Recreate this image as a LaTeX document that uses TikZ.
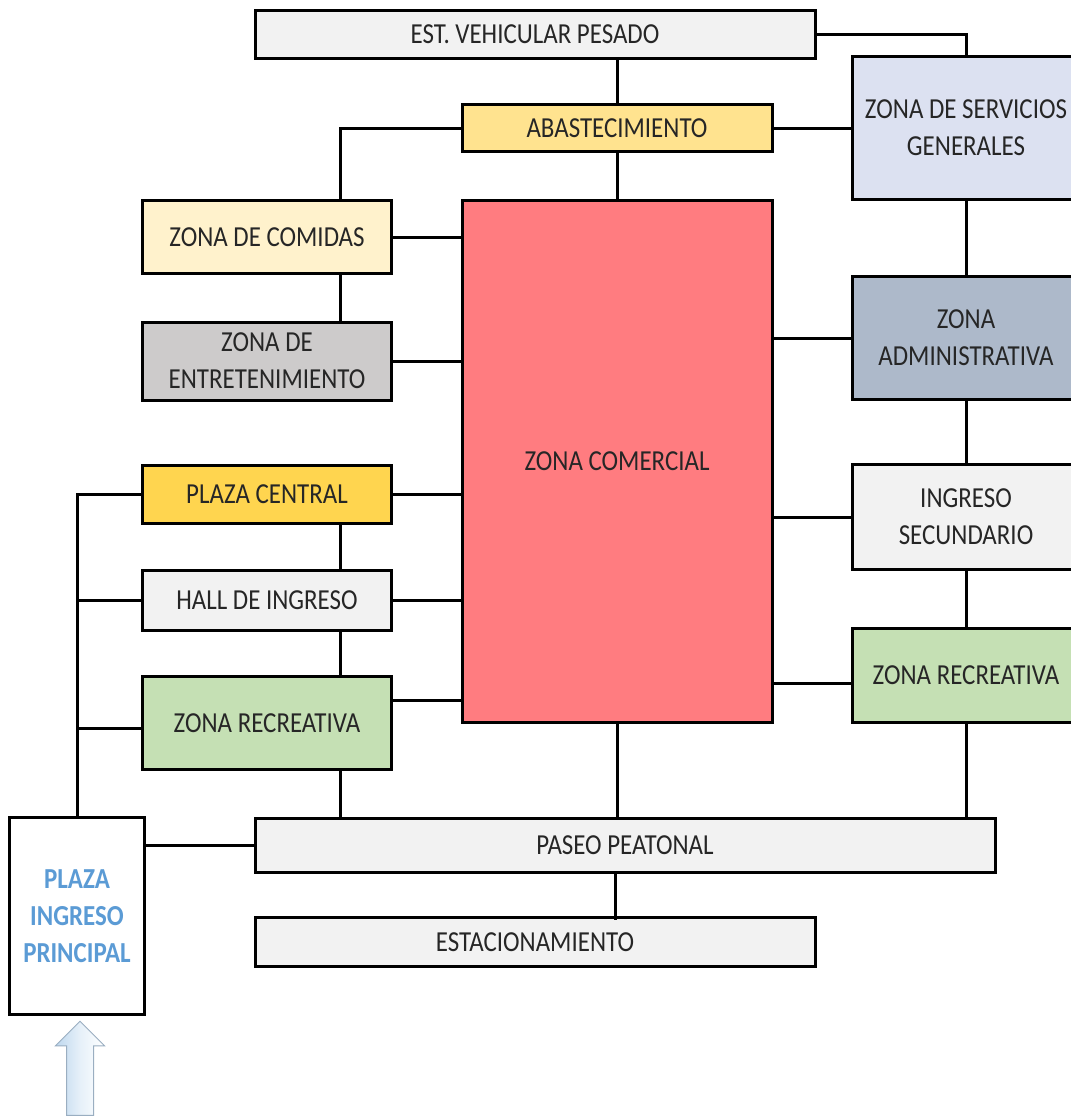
\documentclass[tikz,border=0pt]{standalone}
\usepackage{fontspec}
\setmainfont{Carlito}[FakeStretch=0.86]
\usetikzlibrary{shapes.arrows}

\definecolor{grisclaro}{HTML}{F2F2F2}
\definecolor{lavanda}{HTML}{DCE1F1}
\definecolor{amarillo}{HTML}{FFE38F}
\definecolor{crema}{HTML}{FFF2CC}
\definecolor{salmon}{HTML}{FF7C80}
\definecolor{grismedio}{HTML}{CDCBCB}
\definecolor{azulgris}{HTML}{ADB9CA}
\definecolor{dorado}{HTML}{FFD54F}
\definecolor{verdeclaro}{HTML}{C5E0B4}
\definecolor{azultexto}{HTML}{5B9BD5}

\newcommand\zonatextstyle{\fontsize{29}{37}\selectfont}
\newcommand\zonalinewidth{3pt}

\tikzset{
  zona/.style={draw, line width=\zonalinewidth, align=center, inner sep=0pt,
    text=black!85, font=\zonatextstyle},
  enlace/.style={line width=\zonalinewidth},
}

\begin{document}
\begin{tikzpicture}[x=1pt, y=-1pt]
    \useasboundingbox (0,0) rectangle (1071,1117);
    % bloques
    \node (est) at (535,34)[zona, fill=grisclaro, minimum width=560, minimum height=48]{EST. VEHICULAR PESADO};
    \node (serv) at (966,128)[zona, fill=lavanda, minimum width=228, minimum height=143]{ZONA DE SERVICIOS\\GENERALES};
    \node (abast) at (617,128)[zona, fill=amarillo, minimum width=310, minimum height=47]{ABASTECIMIENTO};
    \node (comidas) at (267,237)[zona, fill=crema, minimum width=249, minimum height=73]{ZONA DE COMIDAS};
    \node (comercial) at (617,461)[zona, fill=salmon, minimum width=310, minimum height=522]{ZONA COMERCIAL};
    \node (entret) at (267,361)[zona, fill=grismedio, minimum width=249, minimum height=78]{ZONA DE\\ENTRETENIMIENTO};
    \node (admin) at (966,338)[zona, fill=azulgris, minimum width=228, minimum height=123]{ZONA\\ADMINISTRATIVA};
    \node (plazac) at (267,494)[zona, fill=dorado, minimum width=249, minimum height=58]{PLAZA CENTRAL};
    \node (ingsec) at (966,517)[zona, fill=grisclaro, minimum width=228, minimum height=105]{INGRESO\\SECUNDARIO};
    \node (hall) at (267,600)[zona, fill=grisclaro, minimum width=249, minimum height=60]{HALL DE INGRESO};
    \node (recl) at (267,723)[zona, fill=verdeclaro, minimum width=249, minimum height=93]{ZONA RECREATIVA};
    \node (recr) at (966,675)[zona, fill=verdeclaro, minimum width=228, minimum height=94]{ZONA RECREATIVA};
    \node (paseo) at (625,845)[zona, fill=grisclaro, minimum width=740, minimum height=54]{PASEO PEATONAL};
    \node (estac) at (535,942)[zona, fill=grisclaro, minimum width=560, minimum height=49]{ESTACIONAMIENTO};
    \node (pip) at (77,916)[zona, fill=white, minimum width=135, minimum height=197, text=azultexto, font=\zonatextstyle\bfseries]{PLAZA\\INGRESO\\PRINCIPAL};
    \node (entrada) at (80,1075)[single arrow, rotate=90, draw=azultexto!45!gray!70, line width=1pt,
      left color=azultexto!40, right color=white, middle color=azultexto!15,
      minimum height=94, inner xsep=0pt, inner ysep=13pt, single arrow head extend=11pt,
      single arrow head indent=0pt]{};
    % puntos de enlace
    \coordinate (izq1) at ([xshift=73]comidas.north);
    \coordinate (izq2) at ([xshift=73]entret.north);
    \coordinate (izq3) at ([xshift=73]plazac.south);
    \coordinate (izq4) at ([xshift=73]hall.north);
    \coordinate (izq5) at ([xshift=73]hall.south);
    \coordinate (izq6) at ([xshift=73]recl.north);
    \coordinate (izq7) at ([xshift=73]recl.south);
    % enlaces
    \draw[enlace] (est.east) -| (serv.north);
    \draw[enlace] (abast.north) -- (abast.north |- est.south);
    \draw[enlace] (abast.south) -- (abast.south |- comercial.north);
    \draw[enlace] (serv.west) -- (abast.east);
    \draw[enlace] (abast.west) -| (izq1);
    \draw[enlace] (comidas.east) -- (comidas.east -| comercial.west);
    \draw[enlace] (izq1 |- comidas.south) -- (izq2);
    \draw[enlace] (entret.east) -- (entret.east -| comercial.west);
    \draw[enlace] (plazac.east) -- (plazac.east -| comercial.west);
    \draw[enlace] (izq3) -- (izq4);
    \draw[enlace] (hall.east) -- (hall.east -| comercial.west);
    \draw[enlace] (izq5) -- (izq6);
    \draw[enlace] ([yshift=23pt]recl.east) -- ([yshift=23pt]recl.east -| comercial.west);
    \draw[enlace] (izq7) -- (izq7 |- paseo.north);
    \draw[enlace] (pip.north) |- (plazac.west);
    \draw[enlace] (pip.north |- hall.west) -- (hall.west);
    \draw[enlace] ([yshift=-5pt]pip.north |- recl.west) -- ([yshift=-5pt]recl.west);
    \draw[enlace] (pip.east |- paseo.west) -- (paseo.west);
    \draw[enlace] (comercial.south) -- (comercial.south |- paseo.north);
    \draw[enlace] (recr.south) -- (recr.south |- paseo.north);
    \draw[enlace] (paseo.south -| estac.north) ++(80,0) -- ++(0,46);
    \draw[enlace] (serv.south) -- (admin.north);
    \draw[enlace] (admin.south) -- (ingsec.north);
    \draw[enlace] (ingsec.south) -- (recr.north);
    \draw[enlace] (admin.west) -- (admin.west -| comercial.east);
    \draw[enlace] (ingsec.west) -- (ingsec.west -| comercial.east);
    \draw[enlace] ([yshift=-8pt]recr.west) -- ([yshift=-8pt]recr.west -| comercial.east);
\end{tikzpicture}
\end{document}
